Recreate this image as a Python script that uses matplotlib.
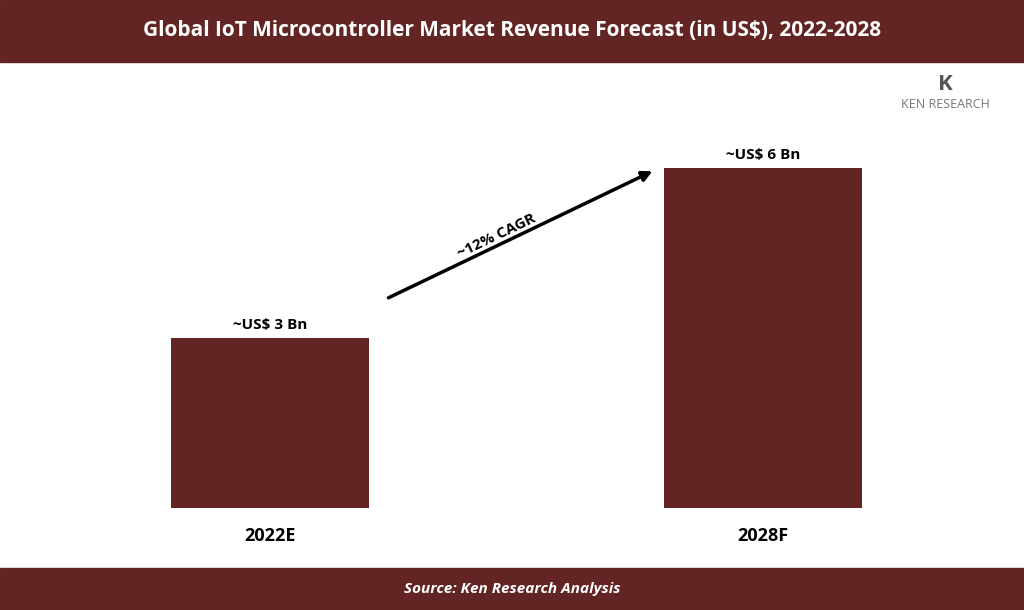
import matplotlib.pyplot as plt
from matplotlib.patches import Rectangle

plt.rcParams['font.family'] = 'Open Sans'

categories = ['2022E', '2028F']
values = [3, 6]
value_labels = ['~US$ 3 Bn', '~US$ 6 Bn']
title = 'Global IoT Microcontroller Market Revenue Forecast (in US$), 2022-2028'
source = 'Source: Ken Research Analysis'
cagr = '~12% CAGR'

dark = '#632523'
W, H = 1024, 610
fig = plt.figure(figsize=(W / 100, H / 100), dpi=100)

# banners
fig.patches.append(Rectangle((0, 1 - 62 / H), 1, 62 / H, transform=fig.transFigure, color=dark))
fig.patches.append(Rectangle((0, 0), 1, 42 / H, transform=fig.transFigure, color=dark))
fig.text(0.5, 1 - 31 / H, title, color='white', ha='center', va='center', fontsize=15, fontweight='bold')
fig.text(0.5, 21 / H, source, color='white', ha='center', va='center', fontsize=11,
         fontweight='bold', fontstyle='italic')

# logo
fig.text(945 / W, 1 - 105 / H, 'KEN RESEARCH', color='#777777', ha='center', va='center', fontsize=9)
fig.text(945 / W, 1 - 84 / H, 'K', color='#555555', ha='center', va='center', fontsize=16, fontweight='bold')

ax = fig.add_axes([0, 102 / H, 1, (508 - 168) / H])
x = range(len(categories))
ax.bar(x, values, width=0.4, color=dark)
ax.set_xlim(-270 / 493, (W - 270) / 493)
ax.set_ylim(0, 6)
ax.axis('off')
for i, (v, lab) in enumerate(zip(values, value_labels)):
    ax.text(i, v + 0.1, lab, ha='center', va='bottom', fontsize=11, fontweight='bold')
    ax.text(i, -0.5, categories[i], ha='center', va='center', fontsize=13, fontweight='bold')

ax.annotate('', xy=(655 / W, 1 - 170 / H), xytext=(386 / W, 1 - 299 / H),
            xycoords='figure fraction',
            arrowprops=dict(arrowstyle='-|>', color='black', lw=2.5, mutation_scale=15))
fig.text(497 / W, 1 - 236 / H, cagr, rotation=25.6, ha='center', va='center', fontsize=11,
         fontweight='bold', rotation_mode='anchor')

fig.savefig('out.png', dpi=100)
